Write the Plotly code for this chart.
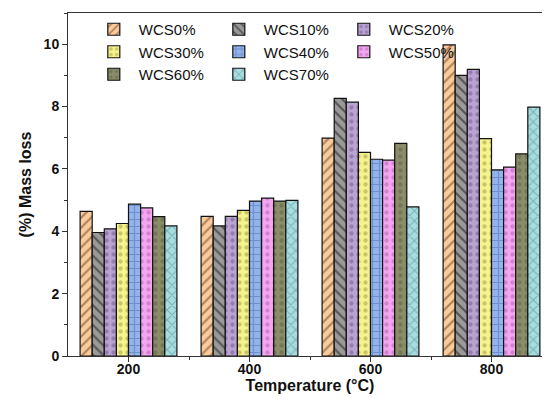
import plotly.graph_objects as go

temps = [200, 400, 600, 800]
series_names = ["WCS0%", "WCS10%", "WCS20%", "WCS30%", "WCS40%", "WCS50%", "WCS60%", "WCS70%"]
wcs0 = [4.64, 4.48, 6.99, 9.98]
wcs10 = [3.96, 4.17, 8.26, 9.00]
wcs20 = [4.08, 4.48, 8.14, 9.19]
wcs30 = [4.25, 4.67, 6.53, 6.97]
wcs40 = [4.87, 4.97, 6.31, 5.97]
wcs50 = [4.75, 5.06, 6.28, 6.06]
wcs60 = [4.47, 4.97, 6.82, 6.48]
wcs70 = [4.17, 4.99, 4.78, 7.98]
values = [wcs0, wcs10, wcs20, wcs30, wcs40, wcs50, wcs60, wcs70]

colors = ["#FCCB9C", "#9A9A9A", "#B9A3D3", "#F6F38E", "#92B4EA", "#F4A6F1", "#8A8D68", "#A9DCDF"]
patterns = ["/", "\\", ".", ".", "+", ".", ".", "x"]
pat_fg = ["#5a3a20", "#111111", "#6e5a88", "#9a9a40", "#4a6ab0", "#b060b0", "#5e6048", "#4a8a90"]

fig = go.Figure()
for name, vals, c, p, fg in zip(series_names, values, colors, patterns, pat_fg):
    fig.add_trace(go.Bar(
        x=temps, y=vals, name=name,
        marker=dict(color=c, line=dict(color="#111111", width=1.2),
                    pattern=dict(shape=p, fgcolor=fg, bgcolor=c, size=7, solidity=0.3)),
    ))

fig.update_layout(
    width=550, height=399,
    margin=dict(l=60, r=6, t=5, b=51),
    plot_bgcolor="white", paper_bgcolor="white",
    barmode="group", bargap=0.2, bargroupgap=0,
    font=dict(family="Arial, Liberation Sans, sans-serif", color="#111111"),
    legend=dict(
        orientation="h", x=0.043, y=1.0, xanchor="left", yanchor="top",
        entrywidth=70, entrywidthmode="pixels",
        font=dict(family="Arial, Liberation Sans, sans-serif", size=15, color="#111111"),
        bgcolor="rgba(0,0,0,0)", tracegroupgap=0, itemwidth=40,
    ),
    xaxis=dict(
        range=[100, 900], tickvals=temps, ticktext=[str(t) for t in temps],
        ticks="outside", ticklen=5, tickcolor="#333", ticklabelstandoff=-5,
        minor=dict(tickvals=[300, 500, 700, 900], ticks="outside", ticklen=3, tickcolor="#333"),
        showline=True, linecolor="#333", linewidth=1, mirror=True,
        showgrid=False, zeroline=False,
        tickfont=dict(family="Arial, Liberation Sans, sans-serif", size=14, color="#111111", weight="bold"),
        title=dict(text="Temperature (°C)", standoff=2,
                   font=dict(family="Arial, Liberation Sans, sans-serif", size=16, color="#111111", weight="bold")),
    ),
    yaxis=dict(
        range=[0, 11], tickvals=[0, 2, 4, 6, 8, 10],
        ticks="outside", ticklen=5, tickcolor="#333",
        minor=dict(dtick=1, ticks="outside", ticklen=3, tickcolor="#333"),
        showline=True, linecolor="#333", linewidth=1, mirror=True,
        showgrid=False, zeroline=False,
        tickfont=dict(family="Arial, Liberation Sans, sans-serif", size=14, color="#111111", weight="bold"),
        title=dict(text="(%) Mass loss", standoff=8,
                   font=dict(family="Arial, Liberation Sans, sans-serif", size=16, color="#111111", weight="bold")),
    ),
)

fig.write_html("out.html")
